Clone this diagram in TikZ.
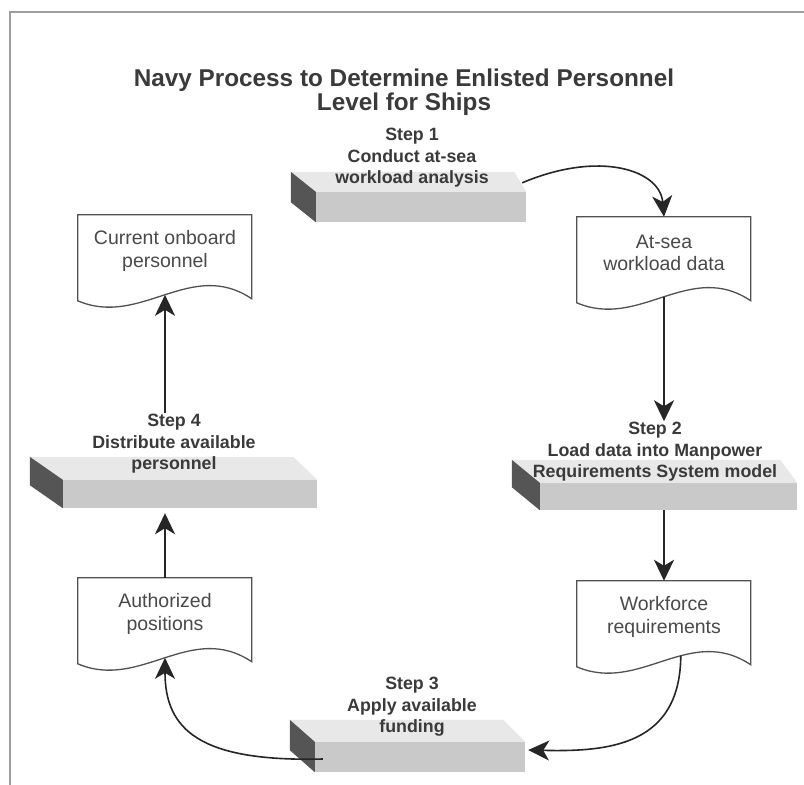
\documentclass[tikz,border=0pt]{standalone}
\usepackage{fontspec}
\setmainfont{Liberation Sans}
\usetikzlibrary{calc,arrows.meta}
\definecolor{txt}{HTML}{3A3A3A}
\definecolor{doctxt}{HTML}{4A4A4A}
\definecolor{topface}{HTML}{E8E8E8}
\definecolor{frontface}{HTML}{C9C9C9}
\definecolor{sideface}{HTML}{555555}
\definecolor{framecol}{HTML}{9E9E9E}
\definecolor{linecol}{HTML}{262626}
\newcommand\slabfaces[4]{%
  \fill[topface] (#1.north west) -- ++(#2,-#4) -- ($(#1.north east)+(#3,-#4)$) -- (#1.north east) -- cycle;
  \fill[sideface] (#1.north west) -- ++(#2,-#4) -- ($(#1.south west)+(#2,-#4)$) -- (#1.south west) -- cycle;
}
\newcommand\docoutline[1]{%
  \draw[docline, shift={(#1.north west)}] (0,0) -- (174,0) -- (174,84) .. controls (113,43) and (63,113) .. (0,86) -- cycle;
}
\tikzset{
  slabfront/.style={fill=frontface, draw=none, inner sep=0pt},
  steptext/.style={align=center, text=txt, inner sep=1pt, font=\bfseries\fontsize{17.8}{21.5}\selectfont},
  docnode/.style={align=center, text=doctxt, inner sep=0pt, minimum width=174pt, minimum height=72pt, font=\fontsize{19.5}{22.5}\selectfont},
  docline/.style={draw=linecol!80, line width=1.3pt},
  straightarrow/.style={draw=linecol, line width=2.4pt, -{Stealth[length=21pt,width=20pt,inset=6pt]}},
  curvearrow/.style={draw=linecol, line width=1.6pt, -{Stealth[length=21pt,width=20pt,inset=6pt]}},
}
\begin{document}
\begin{tikzpicture}[x=1pt,y=-1pt]
\useasboundingbox (0,0) rectangle (804,785);
\fill[white] (0,0) rectangle (804,785);
% frame
\draw[framecol, line width=2pt] (10,785) -- (10,12) -- (804,12);
% title
\node[align=center, text=txt, font=\bfseries\fontsize{24.3}{24}\selectfont] (title) at (404,92) {Navy Process to Determine Enlisted Personnel\\Level for Ships};
% slabs
\node[slabfront, minimum width=210pt, minimum height=30pt] (s1) at (421,207) {};
\slabfaces{s1}{-25}{-12}{20}
\node[slabfront, minimum width=257pt, minimum height=27pt] (s2) at (668.5,496.5) {};
\slabfaces{s2}{-28}{-17}{23}
\node[slabfront, minimum width=254pt, minimum height=28pt] (s4) at (190,494) {};
\slabfaces{s4}{-33}{-24}{23}
\node[slabfront, minimum width=210pt, minimum height=30pt] (s3) at (420,757) {};
\slabfaces{s3}{-25}{-22}{22}
% step texts
\node[steptext] (t1) at (412,158) {Step 1\\Conduct at-sea\\workload analysis};
\node[steptext] (t2) at (655,452) {Step 2\\Load data into Manpower\\Requirements System model};
\node[steptext] (t4) at (174,444) {Step 4\\Distribute available\\personnel};
\node[steptext] (t3) at (412,707) {Step 3\\Apply available\\funding};
% documents
\node[docnode] (d1) at (664,253) {At-sea\\workload data};
\docoutline{d1}
\node[docnode] (d4) at (165,251) {Current onboard\\personnel};
\docoutline{d4}
\node[docnode] (d3) at (165,614) {Authorized\\positions};
\docoutline{d3}
\node[docnode] (d2) at (664,617) {Workforce\\requirements};
\docoutline{d2}
% connector end points
\coordinate (c1s) at ($(s1.north east)+(-4,-9)$);
\coordinate (d1b) at ($(d1.north)+(0,80)$);
\coordinate (d2b) at ($(d2.north west)+(104,75)$);
\coordinate (s3in) at ($(s3.east)+(3,-7)$);
\coordinate (s3out) at ($(s3.west)+(8,2)$);
\coordinate (d3b) at ($(d3.north)+(0,80)$);
\coordinate (d4b) at ($(d4.north)+(0,80)$);
\coordinate (s4in) at ($(d3.north |- s4.south)+(0,5)$);
% connectors
\draw[curvearrow] (c1s) .. controls (600,150) and (660,170) .. (d1.north);
\draw[straightarrow] (d1b) -- (d1.north |- t2.north);
\draw[straightarrow] (d2.north |- s2.south) -- (d2.north);
\draw[curvearrow] (d2b) .. controls (680,745) and (610,752) .. (s3in);
\draw[curvearrow] (s3out) .. controls (200,762) and (165,730) .. (d3b);
\draw[straightarrow] (d3.north) -- (s4in);
\draw[straightarrow] (d4.north |- t4.north) -- (d4b);
\end{tikzpicture}
\end{document}
